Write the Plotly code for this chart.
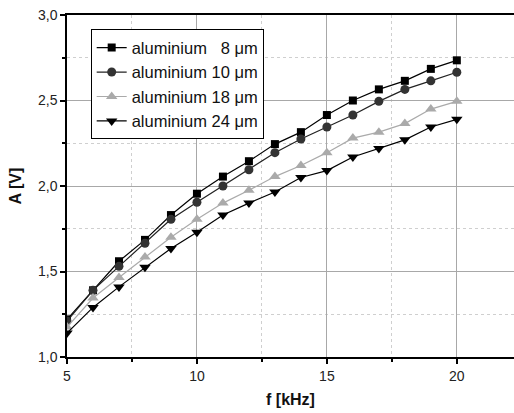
import plotly.graph_objects as go

freq_khz = [5, 6, 7, 8, 9, 10, 11, 12, 13, 14, 15, 16, 17, 18, 19, 20]

al_8um = [1.22, 1.39, 1.56, 1.685, 1.83, 1.955, 2.055, 2.145, 2.245, 2.315, 2.415, 2.50, 2.565, 2.615, 2.685, 2.735]
al_10um = [1.21, 1.39, 1.53, 1.665, 1.805, 1.905, 2.0, 2.095, 2.195, 2.275, 2.345, 2.415, 2.495, 2.565, 2.615, 2.665]
al_18um = [1.175, 1.345, 1.465, 1.585, 1.70, 1.805, 1.90, 1.975, 2.055, 2.12, 2.195, 2.28, 2.315, 2.365, 2.45, 2.495]
al_24um = [1.14, 1.29, 1.41, 1.525, 1.635, 1.73, 1.83, 1.90, 1.965, 2.05, 2.09, 2.17, 2.22, 2.27, 2.345, 2.39]

series_names = ["aluminium \u20078 \u03bcm", "aluminium 10 \u03bcm", "aluminium 18 \u03bcm", "aluminium 24 \u03bcm"]
series_values = [al_8um, al_10um, al_18um, al_24um]
line_colors = ["#000000", "#222222", "#aaaaaa", "#000000"]
marker_colors = ["#000000", "#333333", "#aaaaaa", "#000000"]
symbols = ["square", "circle", "triangle-up", "triangle-down"]
sizes = [8, 9, 10, 10]

fig = go.Figure()
for name, vals, lc, mc, sym, sz in zip(series_names, series_values, line_colors, marker_colors, symbols, sizes):
    fig.add_trace(go.Scatter(
        x=freq_khz, y=vals, name=name, mode="lines+markers",
        line=dict(color=lc, width=1.2),
        marker=dict(symbol=sym, size=sz, color=mc, line=dict(width=0)),
    ))

axis_common = dict(
    showline=True, linecolor="black", linewidth=1.5, mirror=True,
    ticks="outside", ticklen=5, tickwidth=1.5, tickcolor="black",
    showgrid=True, gridcolor="#a8a8a8", gridwidth=1.2,
    zeroline=False, automargin=False, ticklabeloverflow="allow",
    tickfont=dict(family="Liberation Sans, Arial", size=14, color="#222"),
)

fig.update_xaxes(
    range=[5, 22.2], tickvals=[5, 10, 15, 20],
    minor=dict(dtick=2.5, tick0=5, showgrid=True, gridcolor="#cfcfcf", griddash="dot",
               gridwidth=1, ticks="outside", ticklen=3, tickcolor="black"),
    title=dict(text="<b>f [kHz]</b>", font=dict(family="Liberation Sans, Arial", size=16, color="#111"), standoff=11),
    **axis_common,
)
fig.update_yaxes(
    range=[1.0, 3.0], tickvals=[1.0, 1.5, 2.0, 2.5, 3.0], tickformat=".1f",
    minor=dict(dtick=0.25, tick0=1.0, showgrid=True, gridcolor="#cfcfcf", griddash="dot",
               gridwidth=1, ticks="outside", ticklen=3, tickcolor="black"),
    title=dict(text="<b>A [V]</b>", font=dict(family="Liberation Sans, Arial", size=16, color="#111"), standoff=12),
    **axis_common,
)

fig.update_layout(
    width=514, height=413,
    margin=dict(l=67, r=0, t=15, b=56),
    paper_bgcolor="white", plot_bgcolor="white",
    separators=",.",
    showlegend=True,
    legend=dict(
        x=0.053, y=0.958, xanchor="left", yanchor="top",
        bordercolor="black", borderwidth=1, bgcolor="white",
        font=dict(family="Liberation Sans, Arial", size=16.5, color="#111"),
        tracegroupgap=0, itemwidth=30,
    ),
    font=dict(family="Liberation Sans, Arial"),
)

# remove the browser's default 8px body margin so the figure fills the window
fig.write_html("out.html", config={"displayModeBar": False},
               post_script="document.body.style.margin='0px';")
